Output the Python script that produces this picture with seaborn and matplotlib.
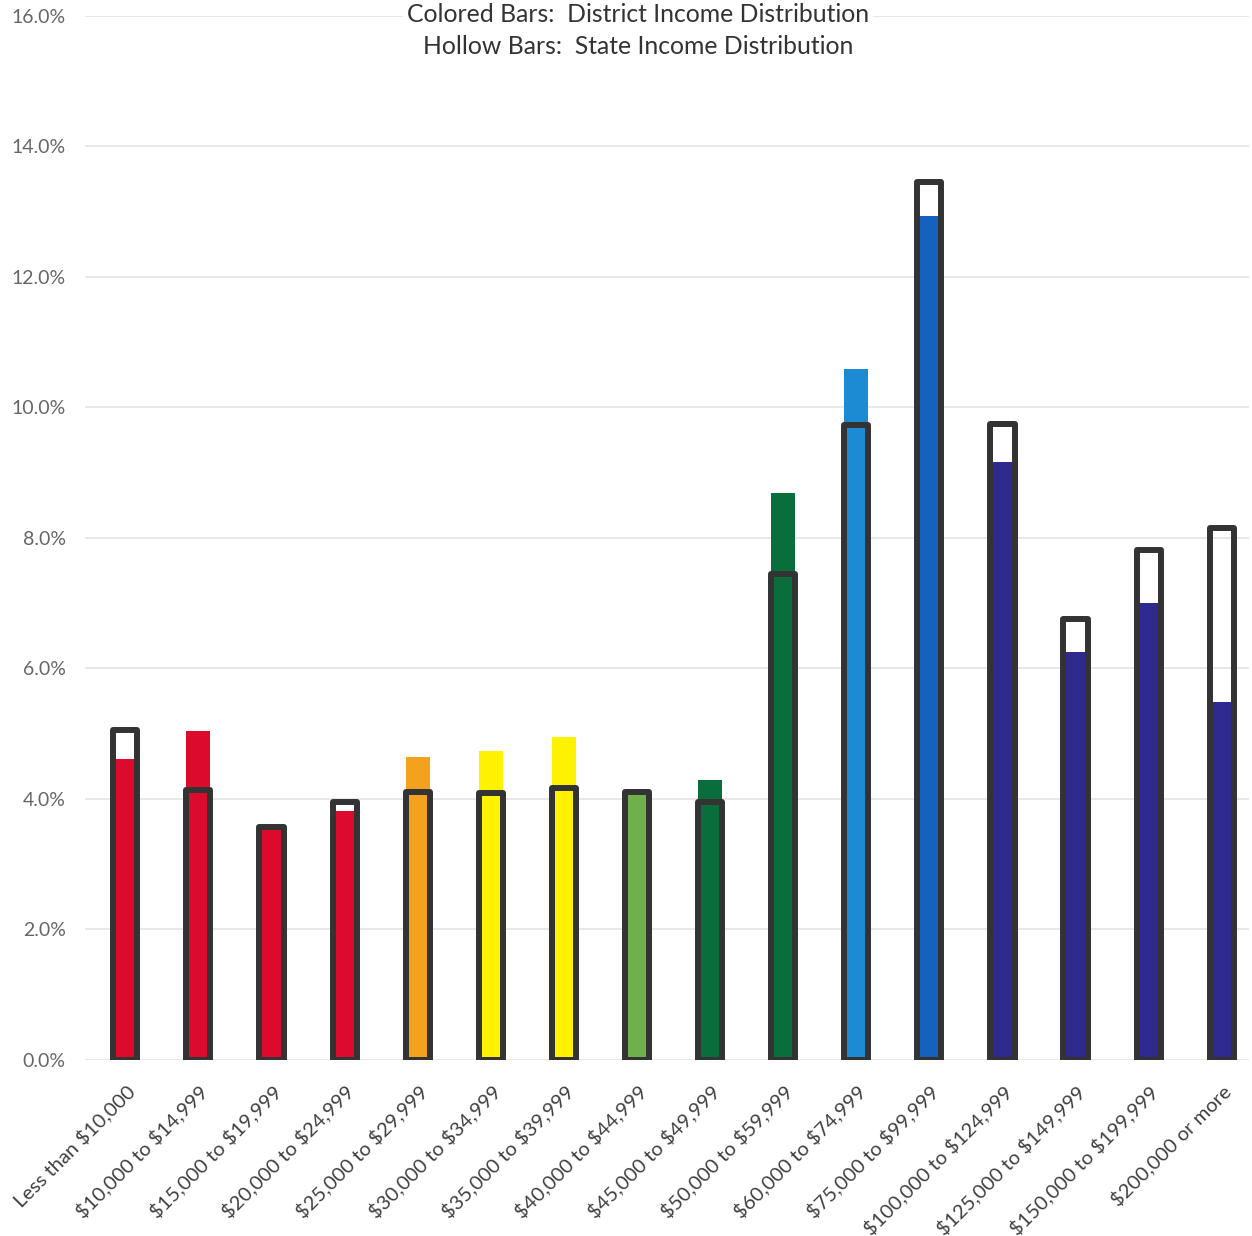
import matplotlib
matplotlib.use("Agg")
import matplotlib.pyplot as plt
import seaborn as sns
import pandas as pd
from matplotlib.ticker import FuncFormatter

categories = [
    "Less than $10,000", "$10,000 to $14,999", "$15,000 to $19,999",
    "$20,000 to $24,999", "$25,000 to $29,999", "$30,000 to $34,999",
    "$35,000 to $39,999", "$40,000 to $44,999", "$45,000 to $49,999",
    "$50,000 to $59,999", "$60,000 to $74,999", "$75,000 to $99,999",
    "$100,000 to $124,999", "$125,000 to $149,999", "$150,000 to $199,999",
    "$200,000 or more",
]
# District (colored) and state (hollow) shares, in percent
district = [4.61, 5.04, 3.55, 3.81, 4.65, 4.73, 4.95, 4.07, 4.29,
            8.69, 10.59, 12.94, 9.16, 6.26, 7.01, 5.48]
state = [5.05, 4.14, 3.57, 3.95, 4.11, 4.09, 4.17, 4.10, 3.96,
         7.45, 9.73, 13.46, 9.75, 6.76, 7.82, 8.16]
bar_colors = ["#dc0a2d", "#dc0a2d", "#dc0a2d", "#dc0a2d", "#f4a11e",
              "#fff200", "#fff200", "#6fb04c", "#0a6e3c", "#0a6e3c",
              "#1d8bd3", "#1561bf", "#2f2a8e", "#2f2a8e", "#2f2a8e",
              "#2f2a8e"]
y_ticks = [0, 2, 4, 6, 8, 10, 12, 14, 16]
title_lines = ["Colored Bars:  District Income Distribution",
               "Hollow Bars:  State Income Distribution"]

df = pd.DataFrame({"bracket": categories, "district": district, "state": state})

sns.set_style("white")
plt.rcParams["font.family"] = ["Lato", "DejaVu Sans"]
plt.rcParams["text.parse_math"] = False

fig = plt.figure(figsize=(12.52, 12.36), dpi=100)
ax = fig.add_axes([0.068, 0.1424, 0.930, 0.8447])

# Colored district bars
sns.barplot(data=df, x="bracket", y="district", hue="bracket",
            palette=bar_colors, width=0.33, legend=False, ax=ax,
            linewidth=0, saturation=1)
n_fill = len(ax.patches)

# Hollow state bars drawn on top
sns.barplot(data=df, x="bracket", y="state", fill=False, color="#333333",
            width=0.33, linewidth=4.3, ax=ax, saturation=1)
for p in ax.patches[n_fill:]:
    p.set_zorder(4)
    p.set_joinstyle("round")
    p.set_edgecolor("#333333")
    p.set_facecolor("none")

ax.set_ylim(0, 16)
ax.set_xlim(-0.55, 15.38)
ax.set_yticks(y_ticks)
ax.yaxis.set_major_formatter(FuncFormatter(lambda v, _: f"{v:.1f}%"))
ax.grid(axis="y", color="#e4e4e4", linewidth=1.2, zorder=0)
ax.set_axisbelow(True)
for s in ax.spines.values():
    s.set_visible(False)
ax.set_xlabel("")
ax.set_ylabel("")
ax.tick_params(axis="y", length=0, pad=14, labelsize=14, labelcolor="#666666")
ax.tick_params(axis="x", length=0, pad=16, labelsize=14.5, labelcolor="#404040")
ax.set_xticks(range(len(categories)))
ax.set_xticklabels(categories, rotation=45, ha="right", rotation_mode="anchor")

# Two-line heading over the top gridline
for yfrac, line in zip([1 - 14 / 1236, 1 - 47 / 1236], title_lines):
    fig.text(638 / 1252, yfrac, line, ha="center", va="center", fontsize=17.8,
             color="#333333", zorder=6,
             bbox=dict(facecolor="white", edgecolor="none", pad=3))

fig.savefig("out.png", dpi=100)
